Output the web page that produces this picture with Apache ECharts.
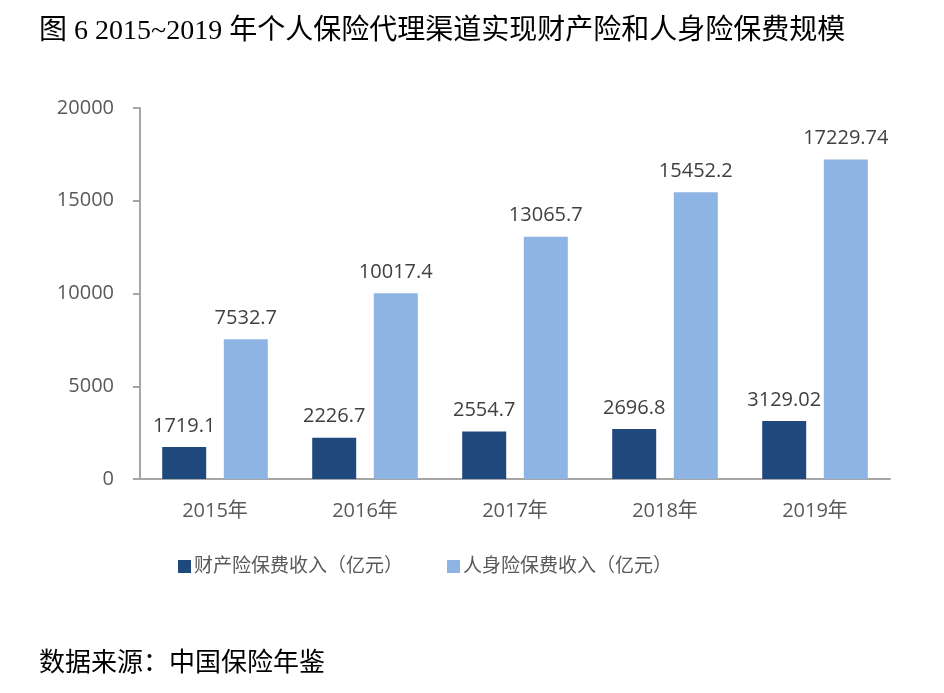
<!DOCTYPE html>
<html>
<head>
<meta charset="utf-8">
<script src="https://cdn.jsdelivr.net/npm/echarts@6/dist/echarts.min.js"></script>
<style>
html, body { margin: 0; padding: 0; background: #fff; }
#main { width: 944px; height: 693px; }
</style>
</head>
<body>
<div id="main"></div>
<script>
var years = ['2015年', '2016年', '2017年', '2018年', '2019年']
var propertyName = '财产险保费收入（亿元）'
var lifeName = '人身险保费收入（亿元）'
var propertyValues = [1719.1, 2226.7, 2554.7, 2696.8, 3129.02]
var lifeValues = [7532.7, 10017.4, 13065.7, 15452.2, 17229.74]

var serif = '"Liberation Serif", "Noto Sans CJK SC", serif'
var sans = '"Open Sans", "Noto Sans CJK SC", sans-serif'

var option = {
    backgroundColor: '#fff',
    animation: false,
    title: [{
        text: '图 6 2015~2019 年个人保险代理渠道实现财产险和人身险保费规模',
        left: 34,
        top: 13,
        textStyle: { fontFamily: serif, fontSize: 28, fontWeight: 'normal', color: '#000' }
    }, {
        text: '数据来源：中国保险年鉴',
        left: 34,
        top: 646,
        textStyle: { fontFamily: serif, fontSize: 26, fontWeight: 'normal', color: '#000' }
    }],
    legend: {
        top: 552,
        left: 173,
        itemGap: 44,
        itemWidth: 13,
        itemHeight: 13,
        icon: 'rect',
        textStyle: { fontFamily: sans, fontSize: 19, color: '#595959', padding: [0, 0, 0, -2] },
        data: [propertyName, lifeName]
    },
    grid: { left: 140, right: 54, top: 108, bottom: 214, containLabel: false },
    xAxis: {
        type: 'category',
        data: years,
        axisLine: { lineStyle: { color: '#a6a6a6', width: 2 } },
        axisTick: { show: false },
        axisLabel: { fontFamily: sans, fontSize: 20, color: '#595959', margin: 22 }
    },
    yAxis: {
        type: 'value',
        min: 0,
        max: 20000,
        interval: 5000,
        splitLine: { show: false },
        axisLine: { show: true, lineStyle: { color: '#a6a6a6', width: 2 } },
        axisTick: { show: true, length: 7, lineStyle: { color: '#a6a6a6', width: 2 } },
        axisLabel: {
            fontFamily: sans, fontSize: 20, color: '#595959', margin: 26,
            formatter: function (v) { return String(v) }
        }
    },
    series: [{
        name: propertyName,
        type: 'bar',
        data: propertyValues,
        barWidth: 44,
        barGap: '40%',
        itemStyle: { color: '#1F497D' },
        label: { show: true, position: 'top', distance: 11, fontFamily: sans, fontSize: 20, color: '#404040' }
    }, {
        name: lifeName,
        type: 'bar',
        data: lifeValues,
        barWidth: 44,
        itemStyle: { color: '#8EB4E3' },
        label: { show: true, position: 'top', distance: 11, fontFamily: sans, fontSize: 20, color: '#404040' }
    }]
}

var myChart = echarts.init(document.getElementById('main'))
myChart.setOption(option)
</script>
</body>
</html>
